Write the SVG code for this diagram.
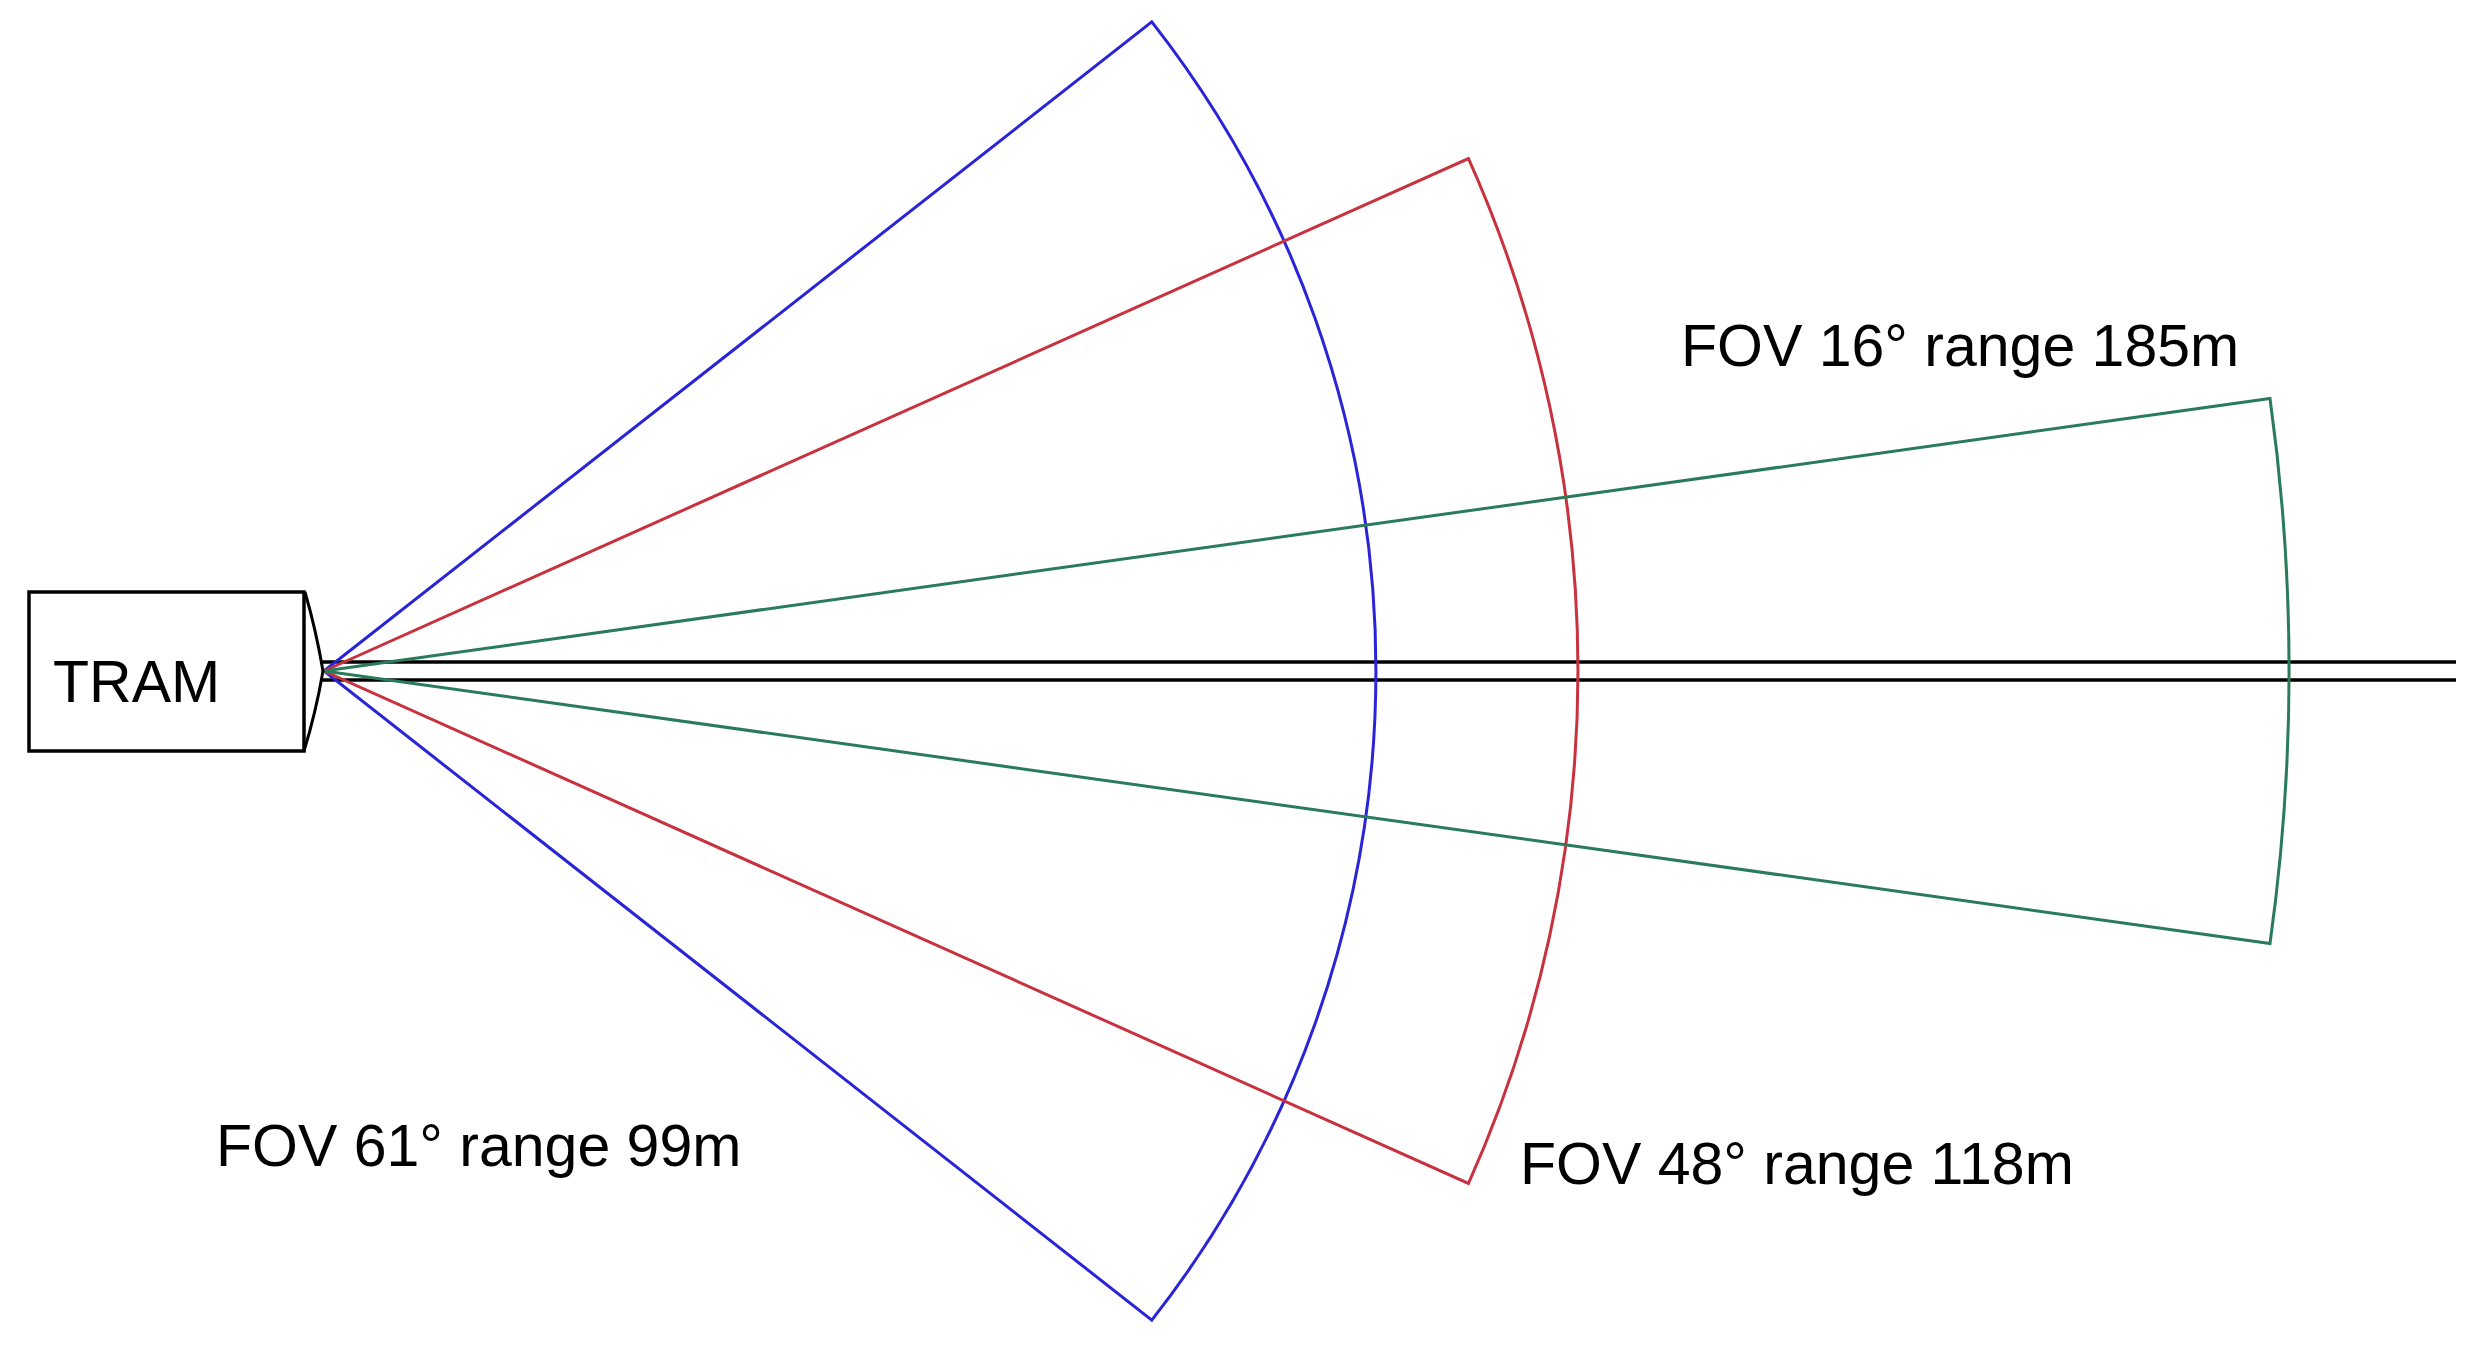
<svg xmlns="http://www.w3.org/2000/svg" width="2476" height="1345" viewBox="0 0 2476 1345">
<style>
  .bg { fill: #ffffff; }
  .box { fill: #ffffff; stroke: #000000; stroke-width: 3.5; }
  .lens { fill: none; stroke: #000000; stroke-width: 3; stroke-linejoin: round; }
  .track { stroke: #000000; stroke-width: 3.5; }
  .fov { fill: none; stroke-width: 3; stroke-linejoin: miter; }
  .blue { stroke: #2a24d8; }
  .red { stroke: #c8323f; }
  .green { stroke: #2a7a5c; }
  .lbl { font-family: "Liberation Sans", Arial, sans-serif; font-size: 59px; fill: #000000; }
</style>
<rect class="bg" x="0" y="0" width="2476" height="1345"/>

<g id="tracks">
  <line class="track" x1="322" y1="662" x2="2456" y2="662"/>
  <line class="track" x1="322" y1="680" x2="2456" y2="680"/>
</g>

<g id="connectors">
  <g id="fov-61">
    <path class="fov blue" d="M324,671 L1151.8,21.9 A1052,1052 0 0 1 1151.8,1320.1 Z"/>
  </g>
  <g id="fov-48">
    <path class="fov red" d="M324,671 L1468.5,158.6 A1254,1254 0 0 1 1468.5,1183.4 Z"/>
  </g>
  <g id="fov-16">
    <path class="fov green" d="M324,671 L2270,398.5 A1965,1965 0 0 1 2270,943.5 Z"/>
  </g>
</g>

<g id="tram">
  <rect class="box" x="29" y="592" width="275" height="159"/>
  <path class="lens" d="M305,592 Q316,630 323,671 Q316,712 304,751"/>
  <text class="lbl" x="53" y="702">TRAM</text>
</g>

<g id="labels">
  <text id="label-16" class="lbl" x="1681" y="366">FOV 16° range 185m</text>
  <text id="label-61" class="lbl" x="216" y="1166">FOV 61° range 99m</text>
  <text id="label-48" class="lbl" x="1520" y="1184">FOV 48° range 118m</text>
</g>
</svg>
